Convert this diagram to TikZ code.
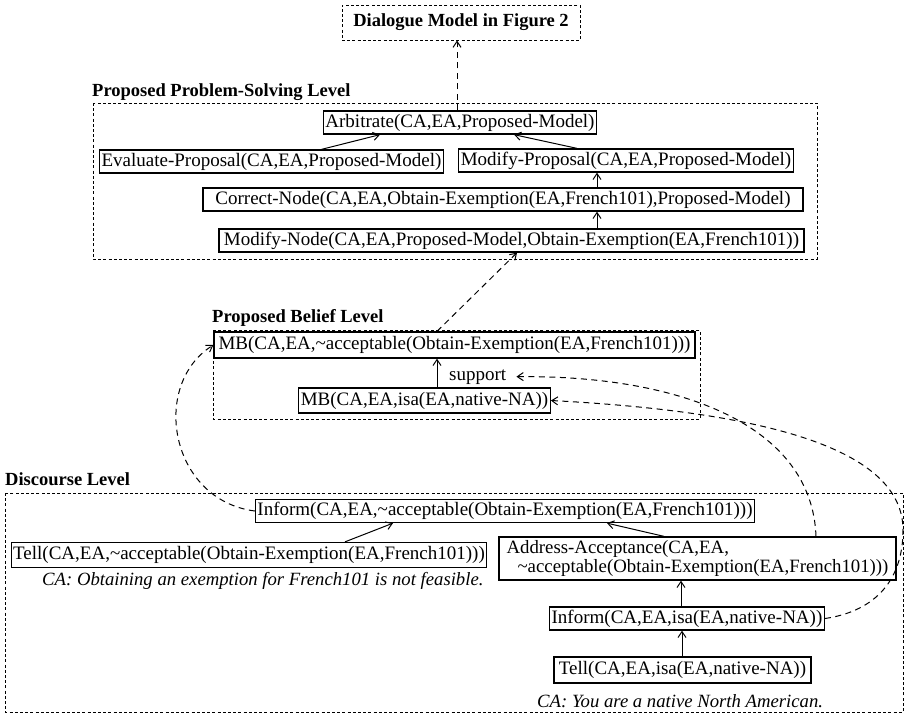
\documentclass[tikz,border=0pt]{standalone}
\usepackage{fontspec}
\setmainfont{Liberation Serif}
\usetikzlibrary{arrows.meta}
\begin{document}
\begin{tikzpicture}[x=1pt,y=-1pt,
  every node/.style={font=\fontsize{19}{22}\selectfont},
  act/.style={draw,line width=1.3pt,inner xsep=2pt,inner ysep=0pt,minimum height=23pt},
  level/.style={draw,line width=1pt,dash pattern=on 3pt off 2.2pt},
  lvlabel/.style={font=\fontsize{18.5}{22}\selectfont\bfseries,anchor=base west,inner sep=0pt},
  utter/.style={font=\fontsize{18.7}{22}\selectfont\itshape,anchor=base west,inner sep=0pt},
  link/.style={line width=1pt,-{Straight Barb[length=6pt,width=8pt,line width=1pt]}},
  dlink/.style={link,dash pattern=on 6pt off 4.5pt},
]
\useasboundingbox (0,0) rectangle (908,718);
\fill[white] (0,0) rectangle (908,718);

% top-level reference box
\node[level,minimum width=238pt,minimum height=35pt,font=\fontsize{18.5}{22}\selectfont\bfseries] (dlg) at (461,22.5) {Dialogue Model in Figure 2};

% proposed problem-solving level
\node[lvlabel] (lpps) at (92,96) {Proposed Problem-Solving Level};
\draw[level] (93,103) rectangle (817,259);
\node[act,minimum width=272pt] (arb) at (460,122.5) {Arbitrate(CA,EA,Proposed-Model)};
\node[act,minimum width=343pt] (eval) at (271.5,161.5) {Evaluate-Proposal(CA,EA,Proposed-Model)};
\node[act,minimum width=334pt] (mp) at (626,160.5) {Modify-Proposal(CA,EA,Proposed-Model)};
\node[act,minimum width=600pt] (corr) at (503,199.5) {Correct-Node(CA,EA,Obtain-Exemption(EA,French101),Proposed-Model)};
\node[act,minimum width=585pt] (mn) at (511.5,240.5) {Modify-Node(CA,EA,Proposed-Model,Obtain-Exemption(EA,French101))};

% proposed belief level
\node[lvlabel] (lpb) at (212,322) {Proposed Belief Level};
\draw[level] (213,330) rectangle (700,419);
\node[act,minimum width=481pt,minimum height=26pt] (mb1) at (454.5,345) {MB(CA,EA,\textasciitilde acceptable(Obtain-Exemption(EA,French101)))};
\node[act,minimum width=245pt,minimum height=25pt] (mb2) at (424.5,400.5) {MB(CA,EA,isa(EA,native-NA))};
\node[anchor=base west,inner sep=0pt] (sup) at (449,380) {support};

% discourse level
\node[lvlabel] (ld) at (5,485) {Discourse Level};
\draw[level] (5,493) rectangle (903,712);
\node[act,minimum width=494pt] (inf1) at (505,511) {Inform(CA,EA,\textasciitilde acceptable(Obtain-Exemption(EA,French101)))};
\node[act,minimum width=474pt,minimum height=25pt] (tell1) at (249,555) {Tell(CA,EA,\textasciitilde acceptable(Obtain-Exemption(EA,French101)))};
\node[utter] (u1) at (42,585) {CA: Obtaining an exemption for French101 is not feasible.};
\node[act,inner xsep=4pt,minimum width=397pt,minimum height=43pt,align=left,font=\fontsize{18.8}{18.5}\selectfont] (addr) at (697.5,558.5) {Address-Acceptance(CA,EA,\\\hspace*{11pt}\textasciitilde acceptable(Obtain-Exemption(EA,French101)))};
\node[act,minimum width=268pt] (inf2) at (687,618.5) {Inform(CA,EA,isa(EA,native-NA))};
\node[act,minimum width=257pt,minimum height=26pt] (tell2) at (682.5,670) {Tell(CA,EA,isa(EA,native-NA))};
\node[utter] (u2) at (537,707) {CA: You are a native North American.};

% problem-solving links
\draw[dlink] ([xshift=-3pt]arb.north) -- ([xshift=-4pt]dlg.south);
\draw[link] ([xshift=50pt]eval.north) -- ([xshift=-80pt]arb.south);
\draw[link] ([xshift=-49pt]mp.north) -- ([xshift=54pt]arb.south);
\draw[link] ([xshift=94pt]corr.north) -- ([xshift=-29pt]mp.south);
\draw[link] ([xshift=85.5pt]mn.north) -- ([xshift=94pt]corr.south);
\draw[dlink] ([xshift=-17.5pt]mb1.north) -- ([xshift=5.5pt]mn.south);

% belief links
\draw[link] ([xshift=12.5pt]mb2.north) -- ([xshift=-17.5pt]mb1.south);
\draw[dlink] ([xshift=118.5pt]addr.north) .. controls (812,425) and (680,375) .. ([xshift=10pt]sup.east);
\draw[dlink] (inf2.east) .. controls (870,612) and (903,585) .. (903,530)
  .. controls (903,450) and (770,412) .. (mb2.east);
\draw[dlink] (inf1.west) .. controls (170,500) and (150,385) .. (mb1.west);

% discourse links
\draw[link] ([xshift=96pt]tell1.north) -- ([xshift=-112pt]inf1.south);
\draw[link] ([xshift=-33.5pt]addr.north) -- ([xshift=102pt]inf1.south);
\draw[link] ([xshift=-6pt]inf2.north) -- ([xshift=-16.5pt]addr.south);
\draw[link] ([xshift=-0.5pt]tell2.north) -- ([xshift=-5pt]inf2.south);
\end{tikzpicture}
\end{document}
